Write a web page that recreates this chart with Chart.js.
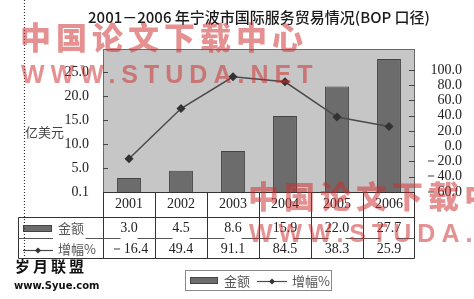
<!DOCTYPE html>
<html><head><meta charset="utf-8">
<script src="https://cdn.jsdelivr.net/npm/chart.js@4.4.0/dist/chart.umd.min.js"></script>
<style>html,body{margin:0;padding:0;background:#fff;}#wrap{position:relative;width:474px;height:299px;}</style>
</head><body><div id="wrap"><canvas id="c" width="474" height="299"></canvas></div>
<script>
const years = ['2001', '2002', '2003', '2004', '2005', '2006'];
const amount = [3.0, 4.5, 8.6, 15.9, 22.0, 27.7];
const growth = [-16.4, 49.4, 91.1, 84.5, 38.3, 25.9];
const leftTicks = [0.1, 5, 10, 15, 20, 25];
const rightTicks = [-60, -40, -20, 0, 20, 40, 60, 80, 100];
const amountLabel = '金额';
const growthLabel = '增幅%';
const unitLabel = '亿美元';
const titleText = '2001－2006 年宁波市国际服务贸易情况(BOP 口径)';
const wmCn = '中国论文下载中心';
const wmEn = 'WWW.STUDA.NET';
const logoCn = '岁月联盟';
const logoEn = 'www.Syue.com';

const serif = "'Liberation Serif','Times New Roman',serif";
const cjk = "'Noto Sans CJK SC','Noto Sans',sans-serif";
const fmt = v => (v < 0 ? '－' : '') + Math.abs(v).toFixed(1);
const BAR = '#6c6c6c', BAR_EDGE = '#444', LINE = '#4a4a4a';

function diamond(ctx, x, y, r) {
  ctx.beginPath(); ctx.moveTo(x, y - r); ctx.lineTo(x + r, y); ctx.lineTo(x, y + r); ctx.lineTo(x - r, y); ctx.closePath(); ctx.fill();
}

const bgPlugin = {
  id: 'bg',
  beforeDraw(chart) {
    const ctx = chart.ctx, a = chart.chartArea;
    ctx.save();
    ctx.fillStyle = '#fff'; ctx.fillRect(0, 0, chart.width, chart.height);
    ctx.fillStyle = '#c6c6c6'; ctx.fillRect(a.left, a.top, a.right - a.left, a.bottom - a.top);
    ctx.strokeStyle = '#6a6a6a'; ctx.lineWidth = 1;
    ctx.strokeRect(a.left + 0.5, a.top + 0.5, a.right - a.left - 1, a.bottom - a.top);
    ctx.strokeStyle = '#444';
    const ys = chart.scales.y, y1 = chart.scales.y1;
    leftTicks.forEach(v => { const p = Math.round(ys.getPixelForValue(v)) + 0.5; ctx.beginPath(); ctx.moveTo(a.left, p); ctx.lineTo(a.left + 5, p); ctx.stroke(); });
    rightTicks.forEach(v => { const p = Math.round(y1.getPixelForValue(v)) + 0.5; ctx.beginPath(); ctx.moveTo(a.right - 6, p); ctx.lineTo(a.right, p); ctx.stroke(); });
    // title
    ctx.fillStyle = '#1a1a1a'; ctx.font = '500 15px ' + cjk; ctx.textAlign = 'center'; ctx.textBaseline = 'middle';
    ctx.fillText(titleText, (a.left + a.right) / 2, 17);
    ctx.restore();
  }
};

const tablePlugin = {
  id: 'table',
  afterDraw(chart) {
    const ctx = chart.ctx, a = chart.chartArea, xs = chart.scales.x;
    const colW = xs.getPixelForValue(1) - xs.getPixelForValue(0);
    const edges = years.map((_, i) => Math.round(xs.getPixelForValue(i) - colW / 2) + 0.5);
    edges.push(Math.round(a.right) - 0.5);
    const tL = 18.5, r1 = 217.5, r2 = 238.5, r3 = 258.5;
    ctx.save();
    ctx.strokeStyle = '#333'; ctx.lineWidth = 1;
    edges.forEach(x => { ctx.beginPath(); ctx.moveTo(x, a.bottom); ctx.lineTo(x, r3); ctx.stroke(); });
    [r1, r3].forEach(y => { ctx.beginPath(); ctx.moveTo(tL, y); ctx.lineTo(edges[edges.length - 1], y); ctx.stroke(); });
    ctx.beginPath(); ctx.moveTo(tL, r1); ctx.lineTo(tL, r3); ctx.stroke();
    ctx.beginPath(); ctx.moveTo(edges[0], a.bottom + 0.5); ctx.lineTo(edges[edges.length - 1], a.bottom + 0.5); ctx.stroke();
    ctx.strokeStyle = '#555';
    ctx.beginPath(); ctx.moveTo(tL, r2); ctx.lineTo(53, r2); ctx.stroke();
    edges.forEach(x => { ctx.beginPath(); ctx.moveTo(Math.max(tL, x - 18), r2); ctx.lineTo(Math.min(edges[edges.length - 1], x + 17), r2); ctx.stroke(); });
    ctx.fillStyle = '#222'; ctx.font = '14px ' + serif; ctx.textAlign = 'center'; ctx.textBaseline = 'middle';
    years.forEach((_, i) => {
      const cx = xs.getPixelForValue(i);
      ctx.fillText(fmt(amount[i]), cx, 228);
      ctx.fillText(fmt(growth[i]), cx, 249);
    });
    ctx.fillStyle = BAR; ctx.strokeStyle = BAR_EDGE;
    ctx.fillRect(23, 225.5, 29, 6); ctx.strokeRect(23.5, 225.5, 28, 6);
    ctx.strokeStyle = LINE; ctx.lineWidth = 1.2;
    ctx.beginPath(); ctx.moveTo(23, 250.5); ctx.lineTo(53, 250.5); ctx.stroke();
    ctx.fillStyle = '#333'; diamond(ctx, 38, 250.5, 3);
    ctx.fillStyle = '#555'; ctx.font = '13px ' + cjk; ctx.textAlign = 'left';
    ctx.fillText(amountLabel, 58, 228);
    ctx.fillText(growthLabel, 58, 249);
    ctx.fillStyle = '#444'; ctx.fillText(unitLabel, 25, 132);
    ctx.fillStyle = '#fff'; ctx.strokeStyle = '#888'; ctx.lineWidth = 1;
    ctx.fillRect(185, 270, 147, 21); ctx.strokeRect(185.5, 270.5, 146, 20);
    ctx.fillStyle = BAR; ctx.strokeStyle = BAR_EDGE;
    ctx.fillRect(190, 277, 28, 7); ctx.strokeRect(190.5, 277.5, 27, 6);
    ctx.fillStyle = '#555'; ctx.font = '13px ' + cjk; ctx.textBaseline = 'middle';
    ctx.fillText(amountLabel, 224, 281);
    ctx.strokeStyle = LINE; ctx.lineWidth = 1.2;
    ctx.beginPath(); ctx.moveTo(257, 281.5); ctx.lineTo(287, 281.5); ctx.stroke();
    ctx.fillStyle = '#333'; diamond(ctx, 272, 281.5, 3);
    ctx.fillStyle = '#555'; ctx.fillText(growthLabel, 292, 281);
    ctx.strokeStyle = '#333'; ctx.setLineDash([1, 2]);
    ctx.beginPath(); ctx.moveTo(24.5, 0); ctx.lineTo(24.5, 263); ctx.stroke();
    ctx.setLineDash([]);
    ctx.fillStyle = '#111'; ctx.font = 'bold 15px ' + cjk; ctx.letterSpacing = '3px';
    ctx.fillText(logoCn, 15, 266);
    ctx.font = 'bold 10px DejaVu Sans'; ctx.letterSpacing = '0px';
    ctx.fillText(logoEn, 14, 286);
    ctx.fillStyle = 'rgba(205,45,45,0.52)';
    [[0, 0], [228, 159]].forEach(([dx, dy]) => {
      ctx.font = '900 31px ' + cjk; ctx.letterSpacing = '5px'; ctx.textBaseline = 'middle';
      ctx.fillText(wmCn, 20 + dx, 37 + dy);
      ctx.font = 'bold 25px ' + "'Liberation Sans',Arial,sans-serif"; ctx.letterSpacing = '6px';
      ctx.fillText(wmEn, 21 + dx, 76 + dy);
    });
    ctx.letterSpacing = '0px';
    ctx.restore();
  }
};

new Chart(document.getElementById('c').getContext('2d'), {
  type: 'bar',
  data: {
    labels: years,
    datasets: [
      { type: 'line', label: growthLabel, data: growth, yAxisID: 'y1', borderColor: LINE, borderWidth: 1.5,
        pointStyle: 'rectRot', pointRadius: 3.5, pointBackgroundColor: '#333', pointBorderColor: '#333', tension: 0, order: 0 },
      { type: 'bar', label: amountLabel, data: amount, yAxisID: 'y', backgroundColor: BAR, borderColor: BAR_EDGE,
        borderWidth: 1, barPercentage: 0.46, categoryPercentage: 1, order: 1 }
    ]
  },
  options: {
    responsive: false, animation: false, devicePixelRatio: 1,
    layout: { padding: { top: 49, left: 0, right: 12, bottom: 0 } },
    plugins: { legend: { display: false }, tooltip: { enabled: false }, title: { display: false } },
    scales: {
      x: { position: 'bottom', grid: { display: false, drawTicks: false }, border: { display: false },
        ticks: { font: { family: serif, size: 14 }, color: '#222', padding: 4, maxRotation: 0, autoSkip: false },
        afterFit(s) { s.height = 107; } },
      y: { position: 'left', min: 0.1, max: 29.8,
        afterBuildTicks(s) { s.ticks = leftTicks.map(v => ({ value: v })); },
        grid: { display: false }, border: { display: false },
        ticks: { font: { family: serif, size: 14 }, color: '#222', padding: 6, autoSkip: false, callback: v => fmt(v) },
        afterFit(s) { s.width = 103; } },
      y1: { position: 'right', min: -60, max: 127.5,
        afterBuildTicks(s) { s.ticks = rightTicks.map(v => ({ value: v })); },
        grid: { display: false }, border: { display: false },
        ticks: { font: { family: serif, size: 14 }, color: '#222', padding: 6, crossAlign: 'far', autoSkip: false, callback: v => fmt(v) },
        afterFit(s) { s.width = 47; } }
    }
  },
  plugins: [bgPlugin, tablePlugin]
});
</script></body></html>
